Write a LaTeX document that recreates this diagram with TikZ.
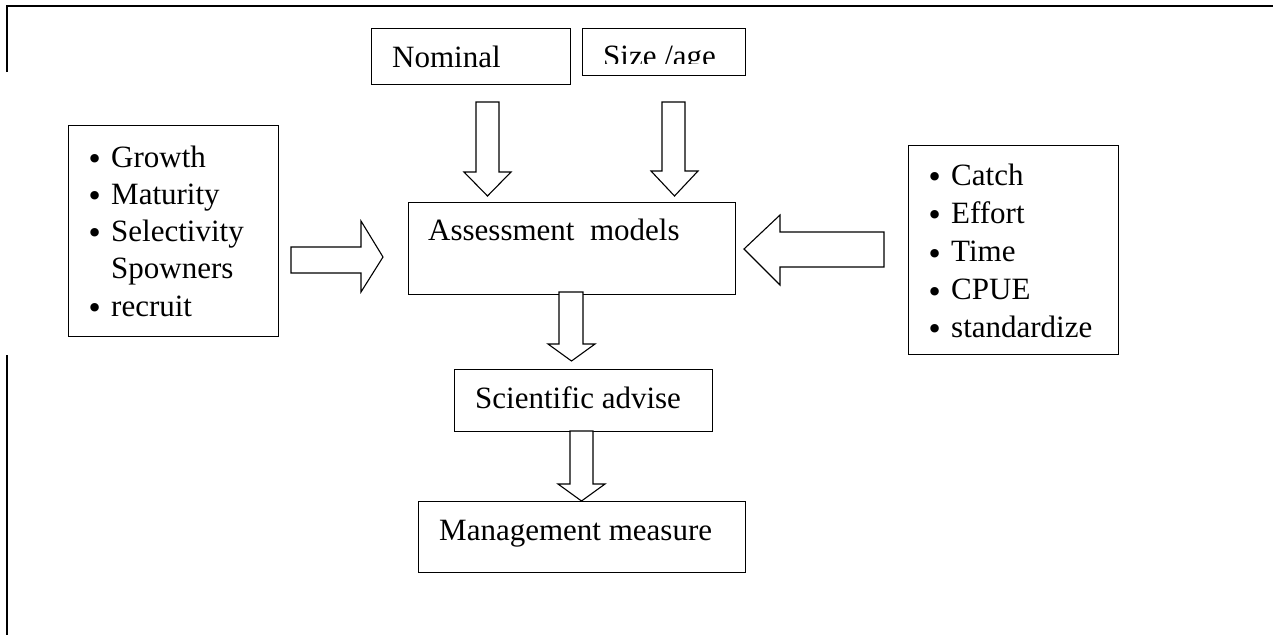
\documentclass[tikz,border=0pt]{standalone}
\usepackage{fontspec}
\setmainfont{Liberation Serif}
\newfontfamily\bulfont{DejaVu Sans}
\newcommand{\bigbul}{\makebox[25pt][l]{\raisebox{-2.5pt}{\fontsize{29}{37}\bulfont •}}}
\begin{document}
\begin{tikzpicture}[x=1pt,y=-1pt,
  box/.style={draw=black, line width=1.1pt, fill=white, inner sep=0pt, anchor=north west},
  txt/.style={anchor=base west, inner sep=0pt, font=\fontsize{31}{37}\selectfont},
  barrow/.style={draw=black, line width=1.1pt, fill=white, line join=miter},
  frameline/.style={line width=2.4pt}]
\useasboundingbox (0,0) rectangle (1273,635);
% frame
\draw[frameline] (7,72) -- (7,6) -- (1273,6);
\draw[frameline] (7,355) -- (7,635);
% boxes
\node[box, minimum width=199pt, minimum height=56pt] (nominal) at (371,28) {};
\node[box, minimum width=163pt, minimum height=47pt] (size) at (582,28) {};
\node[box, minimum width=327pt, minimum height=92pt] (assess) at (408,202) {};
\node[box, minimum width=258pt, minimum height=62pt] (advise) at (454,369) {};
\node[box, minimum width=327pt, minimum height=71pt] (manage) at (418,501) {};
\node[box, minimum width=210pt, minimum height=211pt] (bio) at (68,125) {};
\node[box, minimum width=210pt, minimum height=209pt] (fish) at (908,145) {};
% texts
\node[txt] (tnom) at (392,67) {Nominal};
\begin{scope}
\clip (583,29) rectangle (744,63.5);
\node[txt] (tsize) at (603,66) {Size /age};
\end{scope}
\node[txt] (tass) at (428,240) {Assessment\ \ models};
\node[txt] (tadv) at (475,408) {Scientific advise};
\node[txt] (tman) at (439,540) {Management measure};
% left list
\node[txt] (b1) at (86,167) {\bigbul Growth};
\node[txt] (b2) at (86,204) {\bigbul Maturity};
\node[txt] (b3) at (86,241) {\bigbul Selectivity};
\node[txt] (b4) at (111,278) {Spowners};
\node[txt] (b5) at (86,316) {\bigbul recruit};
% right list
\node[txt] (c1) at (926,185) {\bigbul Catch};
\node[txt] (c2) at (926,223) {\bigbul Effort};
\node[txt] (c3) at (926,261.5) {\bigbul Time};
\node[txt] (c4) at (926,299.5) {\bigbul CPUE};
\node[txt] (c5) at (926,337) {\bigbul standardize};
% block arrows
\draw[barrow] (476,102) -- (499,102) -- (499,172) -- (511,172) -- (487.5,196) -- (464,172) -- (476,172) -- cycle;
\draw[barrow] (662,102) -- (685,102) -- (685,171) -- (698,171) -- (674.5,196) -- (651,171) -- (662,171) -- cycle;
\draw[barrow] (291,247) -- (361,247) -- (361,221) -- (383,257) -- (361,292) -- (361,273) -- (291,273) -- cycle;
\draw[barrow] (884,232) -- (780,232) -- (780,215) -- (744,249) -- (780,285) -- (780,267) -- (884,267) -- cycle;
\draw[barrow] (559,292) -- (583,292) -- (583,344) -- (595,344) -- (571.5,361) -- (548,344) -- (559,344) -- cycle;
\draw[barrow] (570,431) -- (593,431) -- (593,484) -- (605,484) -- (581.5,501) -- (558,484) -- (570,484) -- cycle;
\end{tikzpicture}
\end{document}
